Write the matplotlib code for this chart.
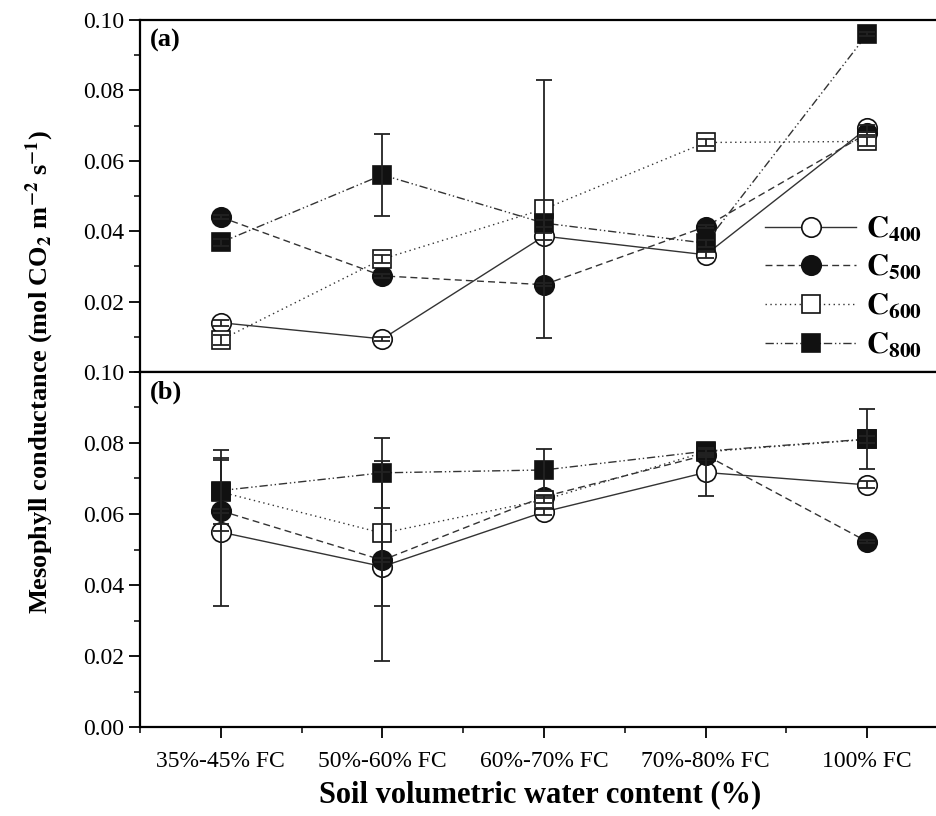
import matplotlib
matplotlib.use("Agg")
import matplotlib.pyplot as plt
from matplotlib.ticker import MultipleLocator

plt.rcParams['font.family'] = ['Liberation Serif', 'DejaVu Serif']
plt.rcParams['mathtext.fontset'] = 'stix'

categories = ["35%-45% FC", "50%-60% FC", "60%-70% FC", "70%-80% FC", "100% FC"]
series_names = ["C400", "C500", "C600", "C800"]

# panel (a)
a_c400 = [0.0140, 0.0094, 0.0386, 0.0333, 0.0693]
a_c400_err = [0.0008, 0.0005, 0.0010, 0.0010, 0.0010]
a_c500 = [0.0440, 0.0273, 0.0248, 0.0413, 0.0678]
a_c500_err = [0.0005, 0.0005, 0.0005, 0.0005, 0.0005]
a_c600 = [0.0091, 0.0321, 0.0463, 0.0652, 0.0655]
a_c600_err = [0.0015, 0.0012, 0.0366, 0.0010, 0.0012]
a_c800 = [0.0368, 0.0560, 0.0423, 0.0366, 0.0960]
a_c800_err = [0.0010, 0.0116, 0.0010, 0.0010, 0.0005]

# panel (b)
b_c400 = [0.0549, 0.0452, 0.0606, 0.0717, 0.0682]
b_c400_err = [0.0209, 0.0265, 0.0010, 0.0065, 0.0010]
b_c500 = [0.0609, 0.0470, 0.0649, 0.0766, 0.0522]
b_c500_err = [0.0005, 0.0005, 0.0005, 0.0005, 0.0005]
b_c600 = [0.0662, 0.0546, 0.0640, 0.0775, 0.0810]
b_c600_err = [0.0090, 0.0204, 0.0010, 0.0010, 0.0010]
b_c800 = [0.0666, 0.0716, 0.0724, 0.0777, 0.0811]
b_c800_err = [0.0114, 0.0098, 0.0060, 0.0010, 0.0085]

styles = [
    dict(ls='-', marker='o', mfc='white', ms=14),
    dict(ls=(0, (5, 3)), marker='o', mfc='#111111', ms=14),
    dict(ls=(0, (1, 2.5)), marker='s', mfc='white', ms=12.5),
    dict(ls=(0, (6, 2, 1, 2, 1, 2)), marker='s', mfc='#111111', ms=12.5),
]
labels = [r"$\mathbf{C_{400}}$", r"$\mathbf{C_{500}}$",
          r"$\mathbf{C_{600}}$", r"$\mathbf{C_{800}}$"]

fig = plt.figure(figsize=(9.36, 8.16), dpi=100)
ax_a = fig.add_axes([140/936, 444/816, 800/936, 352/816])
ax_b = fig.add_axes([140/936, 89/816, 800/936, 355/816])

x = list(range(len(categories)))


def draw(ax, data, errs):
    handles = []
    for vals, err, st, lab in zip(data, errs, styles, labels):
        h, = ax.plot(x, vals, color='#333333', lw=1.0, ls=st['ls'],
                     marker=st['marker'], mfc=st['mfc'], mec='#111111',
                     mew=1.2, ms=st['ms'], zorder=3, label=lab)
        ax.errorbar(x, vals, yerr=err, fmt='none', ecolor='#222222',
                    elinewidth=1.3, capsize=6, capthick=1.3, zorder=4)
        handles.append(h)
    ax.set_xlim(-0.5, 4.45)
    ax.set_ylim(0, 0.10)
    ax.set_xticks(x)
    ax.xaxis.set_minor_locator(MultipleLocator(0.5))
    ax.yaxis.set_minor_locator(MultipleLocator(0.01))
    ax.tick_params(axis='both', which='major', direction='out', length=8,
                   width=1.3, labelsize=17)
    ax.tick_params(axis='both', which='minor', direction='out', length=4.5,
                   width=1.1)
    for sp in ax.spines.values():
        sp.set_linewidth(1.6)
    ax.spines['right'].set_visible(False)
    return handles


handles = draw(ax_a, [a_c400, a_c500, a_c600, a_c800],
               [a_c400_err, a_c500_err, a_c600_err, a_c800_err])
draw(ax_b, [b_c400, b_c500, b_c600, b_c800],
     [b_c400_err, b_c500_err, b_c600_err, b_c800_err])

ax_a.set_yticks([0.02, 0.04, 0.06, 0.08, 0.10])
ax_a.set_yticklabels(["0.02", "0.04", "0.06", "0.08", "0.10"])
ax_a.set_xticklabels([])
ax_b.set_yticks([0.0, 0.02, 0.04, 0.06, 0.08, 0.10])
ax_b.set_yticklabels(["0.00", "0.02", "0.04", "0.06", "0.08", "0.10"])
ax_b.set_xticklabels(categories)
ax_b.tick_params(axis='x', pad=9)

ax_a.text(0.012, 0.975, "(a)", transform=ax_a.transAxes, fontsize=19,
          fontweight='bold', va='top', ha='left')
ax_b.text(0.012, 0.975, "(b)", transform=ax_b.transAxes, fontsize=19,
          fontweight='bold', va='top', ha='left')

ax_a.legend(handles=handles, loc='center right', bbox_to_anchor=(1.0, 0.24),
            frameon=False, fontsize=22, handlelength=3.0, labelspacing=0.3,
            handletextpad=0.3, borderpad=0.1)

ax_b.set_xlabel("Soil volumetric water content (%)", fontsize=22,
                fontweight='bold', labelpad=6)
fig.text(0.042, (89 + 355) / 816, r"Mesophyll conductance (mol CO$_\mathbf{2}$ m$^{\mathbf{-2}}$ s$^{\mathbf{-1}}$)",
         rotation=90, fontsize=19, fontweight='bold', ha='center', va='center')

fig.savefig("out.png", dpi=100)
